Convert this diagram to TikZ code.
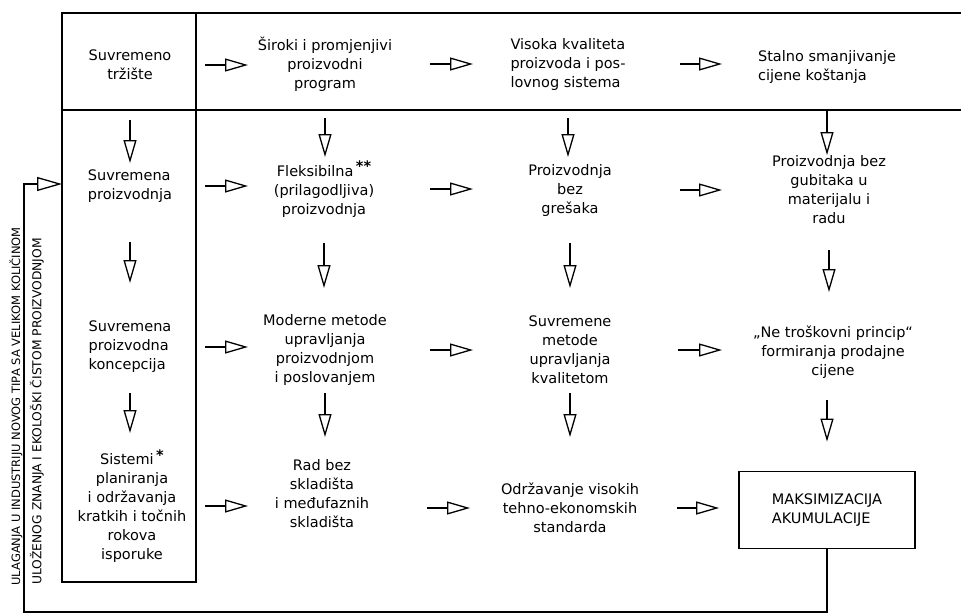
\documentclass[tikz,border=0pt]{standalone}
\usepackage{fontspec}
\setmainfont{DejaVu Sans}
\usetikzlibrary{arrows.meta}

\tikzset{
  txt/.style={font=\fontsize{14.5}{19}\selectfont, align=center, inner sep=0pt},
  flow/.style={line width=2.8pt, -{Triangle[open, length=23pt, width=13pt, line width=1.3pt]}},
  rim/.style={line width=1.8pt},
  povrat/.style={line width=1.4pt, -{Triangle[open, length=25pt, width=14pt, line width=1.3pt]}},
  uspravno/.style={rotate=90, anchor=west, inner sep=0pt}
}
\newcommand{\zvj}[1]{\,\raisebox{0.6ex}{\bfseries #1}}

\begin{document}
\begin{tikzpicture}[x=1pt, y=-1pt, thick]
\useasboundingbox (0,0) rectangle (961,614);

% okvir
\draw[rim] (62,13) -- (961,13);
\draw[rim] (62,110) -- (961,110);
\draw[rim] (62,13) rectangle (196,582);

% prvi red
\node[txt] (trziste) at (130,65) {Suvremeno\\tržište};
\node[txt] (siroki) at (325,64) {Široki i promjenjivi\\proizvodni\\program};
\node[txt, align=left] (visoka) at (568,64) {Visoka kvaliteta\\proizvoda i pos-\\lovnog sistema};
\node[txt, align=left] (stalno) at (827,67) {Stalno smanjivanje\\cijene koštanja};

% drugi red
\node[txt, align=left] (proizvodnja) at (130,186) {Suvremena\\proizvodnja};
\node[txt] (fleksibilna) at (324,189) {Fleksibilna\zvj{**}\\(prilagodljiva)\\proizvodnja};
\node[txt] (bezgresaka) at (570,190) {Proizvodnja\\bez\\grešaka};
\node[txt] (bezgubitaka) at (829,190) {Proizvodnja bez\\gubitaka u\\materijalu i\\radu};

% treci red
\node[txt, align=left] (koncepcija) at (130,347) {Suvremena\\proizvodna\\koncepcija};
\node[txt] (moderne) at (325,350) {Moderne metode\\upravljanja\\proizvodnjom\\i poslovanjem};
\node[txt] (kvalitetom) at (570,350) {Suvremene\\metode\\upravljanja\\kvalitetom};
\node[txt] (princip) at (833,352) {„Ne troškovni princip“\\formiranja prodajne\\cijene};

% cetvrti red
\node[txt] (sistemi) at (132,506) {Sistemi\zvj{*}\\planiranja\\i održavanja\\kratkih i točnih\\rokova\\isporuke};
\node[txt] (skladista) at (322,494) {Rad bez\\skladišta\\i međufaznih\\skladišta};
\node[txt] (standarda) at (570,508) {Održavanje visokih\\tehno-ekonomskih\\standarda};
\node[txt, draw, line width=1.8pt, align=left, minimum width=176pt, minimum height=77pt] (maks) at (827,510) {MAKSIMIZACIJA\\AKUMULACIJE};

% vodoravne strelice
\draw[flow, shorten <=75pt, shorten >=77pt] (trziste.center) -- (trziste.center -| siroki.center);
\draw[flow, shorten <=105pt, shorten >=95pt] (siroki.center) -- (siroki.center -| visoka.center);
\draw[flow, shorten <=112pt, shorten >=105pt] (visoka.center) -- (visoka.center -| stalno.center);

\draw[flow, shorten <=75pt, shorten >=76pt] (proizvodnja.center) -- (proizvodnja.center -| fleksibilna.center);
\draw[flow, shorten <=106pt, shorten >=97pt] (fleksibilna.center) -- (fleksibilna.center -| bezgresaka.center);
\draw[flow, shorten <=110pt, shorten >=107pt] (bezgresaka.center) -- (bezgresaka.center -| bezgubitaka.center);

\draw[flow, shorten <=75pt, shorten >=77pt] (koncepcija.center) -- (koncepcija.center -| moderne.center);
\draw[flow, shorten <=105pt, shorten >=97pt] (moderne.center) -- (moderne.center -| kvalitetom.center);
\draw[flow, shorten <=108pt, shorten >=111pt] (kvalitetom.center) -- (kvalitetom.center -| princip.center);

\draw[flow, shorten <=73pt, shorten >=74pt] (sistemi.center) -- (sistemi.center -| skladista.center);
\draw[flow, shorten <=105pt, shorten >=100pt] (standarda.center -| skladista.center) -- (standarda.center);
\draw[flow, shorten <=107pt, shorten >=19pt] (standarda.center) -- (standarda.center -| maks.west);

% okomite strelice
\draw[flow, shorten <=55pt, shorten >=23pt] (trziste.center) -- (trziste.center |- proizvodnja.center);
\draw[flow, shorten <=54pt, shorten >=32pt] (siroki.center) -- (siroki.center |- fleksibilna.center);
\draw[flow, shorten <=54pt, shorten >=33pt] (visoka.center) -- (visoka.center |- bezgresaka.center);
\draw[flow, shorten <=44pt, shorten >=35pt] (stalno.center) -- (stalno.center |- bezgubitaka.center);

\draw[flow, shorten <=56pt, shorten >=64pt] (proizvodnja.center) -- (proizvodnja.center |- koncepcija.center);
\draw[flow, shorten <=54pt, shorten >=62pt] (fleksibilna.center) -- (fleksibilna.center |- moderne.center);
\draw[flow, shorten <=53pt, shorten >=62pt] (bezgresaka.center) -- (bezgresaka.center |- kvalitetom.center);
\draw[flow, shorten <=60pt, shorten >=60pt] (bezgubitaka.center) -- (bezgubitaka.center |- princip.center);

\draw[flow, shorten <=46pt, shorten >=73pt] (koncepcija.center) -- (koncepcija.center |- sistemi.center);
\draw[flow, shorten <=43pt, shorten >=57pt] (moderne.center) -- (moderne.center |- skladista.center);
\draw[flow, shorten <=43pt, shorten >=71pt] (kvalitetom.center) -- (kvalitetom.center |- standarda.center);
\draw[flow, shorten <=48pt, shorten >=29pt] (maks.center |- princip.center) -- (maks.north);

% povratna veza
\coordinate (kut) at (24,612);
\coordinate (ulaz) at (62,184);
\draw[povrat] (maks.south) |- (kut) |- (ulaz);
\node[uspravno, font=\fontsize{11.5}{12}\selectfont] (ulaganja) at (16,586) {ULAGANJA U INDUSTRIJU NOVOG TIPA SA VELIKOM KOLIČINOM};
\node[uspravno, font=\fontsize{12.3}{13}\selectfont] (znanje) at (37,585) {ULOŽENOG ZNANJA I EKOLOŠKI ČISTOM PROIZVODNJOM};
\end{tikzpicture}
\end{document}
